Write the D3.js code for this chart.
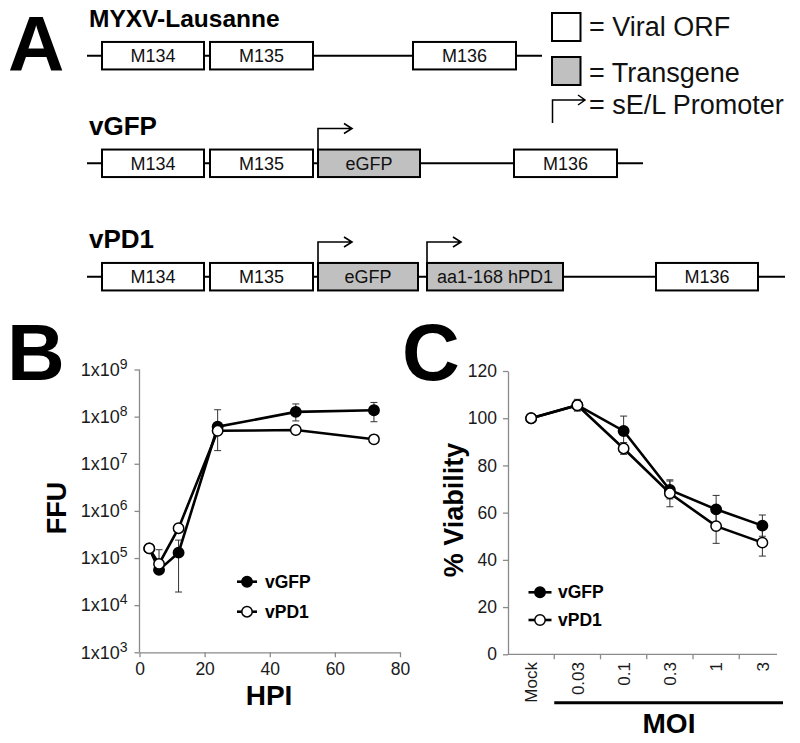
<!DOCTYPE html>
<html><head><meta charset="utf-8">
<script src="https://cdn.jsdelivr.net/npm/d3@7"></script>
<style>body{margin:0;background:#fff}svg{display:block}</style>
</head><body>
<svg id="fig" width="800" height="743"></svg>
<script>
// ---------- Panel A data (genome map, arbitrary units) ----------
const constructs = ["MYXV-Lausanne", "vGFP", "vPD1"];
const constructLength = [45.5, 55.6, 69.8];
const geneNames = [
  ["M134", "M135", "M136"],
  ["M134", "M135", "eGFP", "M136"],
  ["M134", "M135", "eGFP", "aa1-168 hPD1", "M136"]
];
const geneStart = [
  [1.5, 12.3, 32.6],
  [1.5, 12.3, 23.1, 42.7],
  [1.5, 12.3, 23.1, 34.0, 56.9]
];
const geneEnd = [
  [11.7, 22.6, 42.9],
  [11.7, 22.6, 33.3, 53.0],
  [11.7, 22.6, 33.1, 47.6, 67.1]
];
const geneType = [
  ["viral", "viral", "viral"],
  ["viral", "viral", "trans", "viral"],
  ["viral", "viral", "trans", "trans", "viral"]
];
const promoters = [[], [23.1], [23.1, 34.0]];
const legendLabels = ["= Viral ORF", "= Transgene", "= sE/L Promoter"];

// ---------- Panel B data ----------
const hpi = [3, 6, 12, 24, 48, 72];
const ffuGFP = [1.6e5, 5.6e4, 1.3e5, 6.1e7, 1.26e8, 1.37e8];
const ffuGFPHi = [1.6e5, 5.6e4, 2.4e5, 1.4e8, 1.86e8, 2.0e8];
const ffuGFPLo = [1.6e5, 5.6e4, 1.9e4, 1.9e7, 8.1e7, 7.8e7];
const ffuPD1 = [1.6e5, 7.5e4, 4.3e5, 5.0e7, 5.2e7, 3.3e7];
const ffuPD1Hi = [1.6e5, 1.5e5, 4.3e5, 5.0e7, 5.2e7, 3.3e7];
const ffuPD1Lo = [1.6e5, 6.0e4, 4.3e5, 5.0e7, 5.2e7, 3.3e7];
const ffuTicks = [1e3, 1e4, 1e5, 1e6, 1e7, 1e8, 1e9];
const hpiTicks = [0, 20, 40, 60, 80];

// ---------- Panel C data ----------
const moi = ["Mock", "0.03", "0.1", "0.3", "1", "3"];
const viabGFP = [100, 105.5, 94.6, 69.6, 61.4, 54.5];
const viabGFPErr = [0, 2.0, 6.3, 3.8, 5.9, 4.5];
const viabPD1 = [100, 105.5, 87.2, 68.2, 54.3, 47.3];
const viabPD1Err = [0, 2.5, 2.5, 5.7, 7.3, 5.7];
const viabTicks = [0, 20, 40, 60, 80, 100, 120];
const seriesNames = ["vGFP", "vPD1"];

const svg = d3.select("#fig");
const ARIAL = "'Liberation Sans', Arial, sans-serif";
const AXC = "#8a8a8a";

// panel letters
[["A", 8, 71, 78], ["B", 7, 380, 80], ["C", 402, 380, 80]].forEach(([t, x, y, fs]) => {
  svg.append("text").attr("x", x).attr("y", y).text(t)
    .attr("font-family", ARIAL).attr("font-weight", "bold").attr("font-size", fs).attr("fill", "#000");
});

// ================= Panel A =================
const gx = d3.scaleLinear().domain([0, 10]).range([87, 187]);
const rowYs = [55.7, 163.3, 276.7];
const rowTitleY = [27, 135, 248];
const rowTitleSize = [24.5, 26, 26];
const boxH = 27.5;
const A = svg.append("g");
constructs.forEach((c, i) => {
  const y = rowYs[i];
  A.append("text").attr("x", 89).attr("y", rowTitleY[i]).text(c)
    .attr("font-family", ARIAL).attr("font-weight", "bold").attr("font-size", rowTitleSize[i]).attr("fill", "#000");
  A.append("line").attr("x1", gx(0)).attr("x2", gx(constructLength[i])).attr("y1", y).attr("y2", y)
    .attr("stroke", "#000").attr("stroke-width", 2);
  geneNames[i].forEach((g, j) => {
    const x0 = gx(geneStart[i][j]), x1 = gx(geneEnd[i][j]);
    A.append("rect").attr("x", x0).attr("y", y - boxH / 2).attr("width", x1 - x0).attr("height", boxH)
      .attr("fill", geneType[i][j] === "trans" ? "#c0c0c0" : "#fff")
      .attr("stroke", "#000").attr("stroke-width", 2);
    A.append("text").attr("x", (x0 + x1) / 2).attr("y", y + 6.5).text(g)
      .attr("text-anchor", "middle").attr("font-family", ARIAL).attr("font-size", 18).attr("fill", "#111");
  });
  promoters[i].forEach(p => {
    const px = gx(p), top = y - boxH / 2, ay = top - 21, ex = px + 34;
    A.append("path").attr("d", `M${px},${top} V${ay} H${ex} M${ex - 8},${ay - 5} L${ex},${ay} L${ex - 8},${ay + 5}`)
      .attr("fill", "none").attr("stroke", "#000").attr("stroke-width", 1.6);
  });
});
// legend A
const L = svg.append("g");
L.append("rect").attr("x", 552).attr("y", 13).attr("width", 28.5).attr("height", 28)
  .attr("fill", "#fff").attr("stroke", "#000").attr("stroke-width", 2);
L.append("rect").attr("x", 552).attr("y", 57).attr("width", 28.5).attr("height", 28)
  .attr("fill", "#c0c0c0").attr("stroke", "#000").attr("stroke-width", 2);
L.append("path").attr("d", "M552.5,123 V100 H585 M578,95 L585,100 L578,105")
  .attr("fill", "none").attr("stroke", "#000").attr("stroke-width", 1.5);
[35.5, 81.5, 114].forEach((y, i) => {
  L.append("text").attr("x", 589).attr("y", y).text(legendLabels[i])
    .attr("font-family", ARIAL).attr("font-size", 27).attr("fill", "#111");
});

// helper for markers
function drawMarker(g, x, y, filled) {
  g.append("circle").attr("cx", x).attr("cy", y).attr("r", 5.2)
    .attr("fill", filled ? "#000" : "#fff").attr("stroke", "#000").attr("stroke-width", 1.5);
}

// ================= Panel B =================
const bx = d3.scaleLinear().domain([0, 80]).range([139.5, 400]);
const by = d3.scaleLog().domain([1e3, 1e9]).range([652.3, 369.5]);
const B = svg.append("g");
const byAxis = B.append("g").attr("transform", `translate(${bx(0)},0)`)
  .call(d3.axisLeft(by).tickValues(ffuTicks).tickSize(5).tickPadding(7).tickFormat(() => ""));
const bxAxis = B.append("g").attr("transform", `translate(0,${by(1e3)})`)
  .call(d3.axisBottom(bx).tickValues(hpiTicks).tickSize(5).tickPadding(5).tickSizeOuter(0));
[byAxis, bxAxis].forEach(a => {
  a.selectAll("path,line").attr("stroke", AXC).attr("stroke-width", 1.3);
  a.selectAll("text").attr("font-family", ARIAL).attr("font-size", 17.5).attr("fill", "#1a1a1a");
});
byAxis.selectAll(".tick text").attr("font-size", 18).each(function (d) {
  const t = d3.select(this);
  t.append("tspan").text("1x10");
  t.append("tspan").attr("dy", "-0.5em").attr("font-size", 14).text(Math.round(Math.log10(d)));
});
byAxis.select(".domain").attr("d", `M0,${by(1e3)}V${by(1e9)}`);
B.append("text").attr("x", 269).attr("y", 705).text("HPI").attr("text-anchor", "middle")
  .attr("font-family", ARIAL).attr("font-weight", "bold").attr("font-size", 28);
B.append("text").attr("transform", "translate(66,508) rotate(-90)").text("FFU").attr("text-anchor", "middle")
  .attr("font-family", ARIAL).attr("font-weight", "bold").attr("font-size", 27);

function errBar(g, x, yHi, yLo) {
  if (Math.abs(yHi - yLo) < 1) return;
  g.append("path").attr("d", `M${x},${yHi}V${yLo} M${x - 3.5},${yHi}H${x + 3.5} M${x - 3.5},${yLo}H${x + 3.5}`)
    .attr("stroke", "#333").attr("stroke-width", 1).attr("fill", "none");
}
const bSeries = [
  {v: ffuGFP, hi: ffuGFPHi, lo: ffuGFPLo, filled: true},
  {v: ffuPD1, hi: ffuPD1Hi, lo: ffuPD1Lo, filled: false}
];
bSeries.forEach(s => hpi.forEach((h, i) => errBar(B, bx(h), by(s.hi[i]), by(s.lo[i]))));
const bLine = d3.line().x((d, i) => bx(hpi[i])).y(d => by(d));
bSeries.forEach(s => {
  B.append("path").attr("d", bLine(s.v)).attr("fill", "none").attr("stroke", "#000").attr("stroke-width", 2.6);
  hpi.forEach((h, i) => drawMarker(B, bx(h), by(s.v[i]), s.filled));
});
// legend B
[581.7, 611.7].forEach((y, i) => {
  B.append("line").attr("x1", 237).attr("x2", 257).attr("y1", y).attr("y2", y).attr("stroke", "#000").attr("stroke-width", 2.6);
  drawMarker(B, 247, y, i === 0);
  B.append("text").attr("x", 265).attr("y", y + 6).text(seriesNames[i])
    .attr("font-family", ARIAL).attr("font-weight", "bold").attr("font-size", 17.5);
});

// ================= Panel C =================
const cx = d3.scaleBand().domain(moi).range([508, 785.5]);
const cy = d3.scaleLinear().domain([0, 120]).range([654.3, 371]);
const C = svg.append("g");
const cyAxis = C.append("g").attr("transform", `translate(${cx.range()[0]},0)`)
  .call(d3.axisLeft(cy).tickValues(viabTicks).tickSize(5).tickPadding(6).tickSizeOuter(0));
cyAxis.selectAll("path,line").attr("stroke", AXC).attr("stroke-width", 1.3);
cyAxis.selectAll("text").attr("font-family", ARIAL).attr("font-size", 17.5).attr("fill", "#1a1a1a");
// x axis (category)
const cxAxis = C.append("g");
cxAxis.append("line").attr("x1", cx.range()[0]).attr("x2", cx.range()[1] - 8.5)
  .attr("y1", cy(0)).attr("y2", cy(0)).attr("stroke", AXC).attr("stroke-width", 1.3);
moi.slice(1).forEach(m => {
  cxAxis.append("line").attr("x1", cx(m)).attr("x2", cx(m)).attr("y1", cy(0)).attr("y2", cy(0) + 5)
    .attr("stroke", AXC).attr("stroke-width", 1.3);
});
moi.forEach(m => {
  const x = cx(m) + cx.bandwidth() / 2;
  cxAxis.append("text").attr("transform", `translate(${x},662) rotate(-90)`).attr("dy", "0.36em")
    .attr("text-anchor", "end").text(m)
    .attr("font-family", ARIAL).attr("font-size", 17).attr("fill", "#1a1a1a");
});
C.append("line").attr("x1", cx("0.03")).attr("x2", 783).attr("y1", 702.7).attr("y2", 702.7)
  .attr("stroke", "#000").attr("stroke-width", 3);
C.append("text").attr("x", 669).attr("y", 733).text("MOI").attr("text-anchor", "middle")
  .attr("font-family", ARIAL).attr("font-weight", "bold").attr("font-size", 28);
C.append("text").attr("transform", "translate(463,510) rotate(-90)").text("% Viability").attr("text-anchor", "middle")
  .attr("font-family", ARIAL).attr("font-weight", "bold").attr("font-size", 27);

const cSeries = [
  {v: viabGFP, e: viabGFPErr, filled: true},
  {v: viabPD1, e: viabPD1Err, filled: false}
];
const cc = m => cx(m) + cx.bandwidth() / 2;
cSeries.forEach(s => moi.forEach((m, i) => errBar(C, cc(m), cy(s.v[i] + s.e[i]), cy(s.v[i] - s.e[i]))));
const cLine = d3.line().x((d, i) => cc(moi[i])).y(d => cy(d));
cSeries.forEach(s => {
  C.append("path").attr("d", cLine(s.v)).attr("fill", "none").attr("stroke", "#000").attr("stroke-width", 2.6);
  moi.forEach((m, i) => drawMarker(C, cc(m), cy(s.v[i]), s.filled));
});
// legend C
[592.3, 620].forEach((y, i) => {
  C.append("line").attr("x1", 528.5).attr("x2", 551.5).attr("y1", y).attr("y2", y).attr("stroke", "#000").attr("stroke-width", 2.6);
  drawMarker(C, 540, y, i === 0);
  C.append("text").attr("x", 558).attr("y", y + 6).text(seriesNames[i])
    .attr("font-family", ARIAL).attr("font-weight", "bold").attr("font-size", 17.5);
});
</script>
</body></html>
